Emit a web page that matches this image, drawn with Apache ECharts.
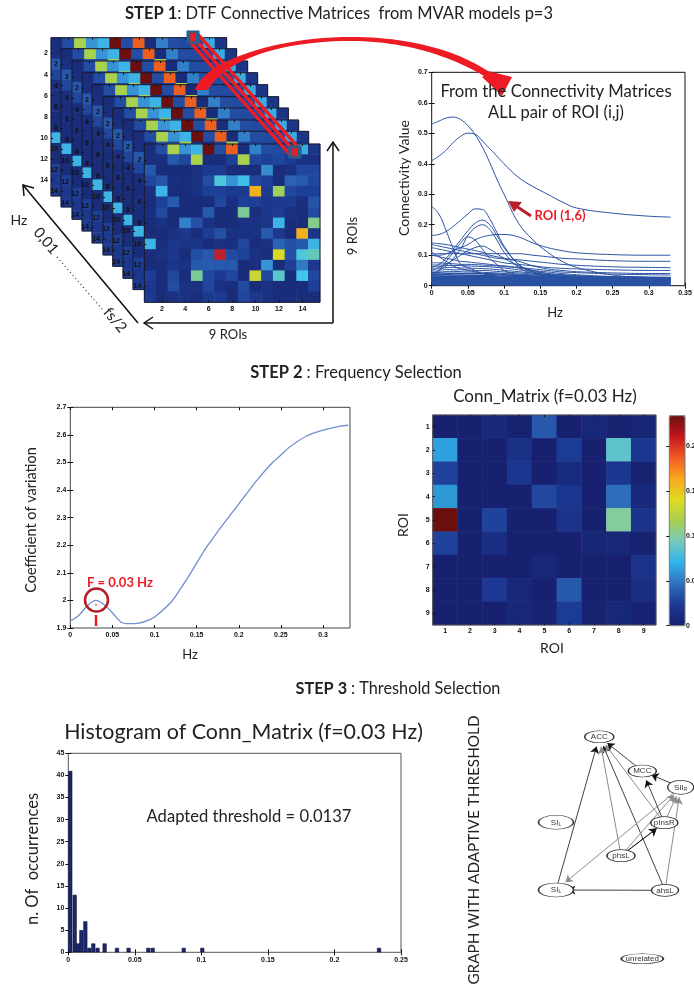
<!DOCTYPE html>
<html><head><meta charset="utf-8">
<style>html,body{margin:0;padding:0;background:#fff}#c{width:694px;height:989px}</style>
<script src="https://cdn.jsdelivr.net/npm/echarts@6/dist/echarts.min.js"></script></head>
<body><div id="c"></div>
<script>
// ---------- data ----------
const matrixTicks = [1,2,3,4,5,6,7,8,9,10,11,12,13,14,15];
const dtfRows = [
 [.03,.14,.6,.28,.35,1,.14,.82,.03,.25,.14,.13,.13,.33,.06],
 [.04,.04,.17,.12,.6,.03,.03,.1,.6,.12,.1,.12,.08,.05,.04],
 [.17,.03,.03,.03,.05,.08,.08,.03,.03,.03,.27,.03,.05,.12,.12],
 [.12,.16,.04,.03,.05,.14,.42,.28,.38,.12,.1,.03,.2,.18,.12],
 [.04,.35,.03,.03,.05,.1,.1,.08,.08,.74,.08,.58,.12,.1,.1],
 [.03,.1,.18,.03,.03,.03,.12,.04,.1,.1,.07,.08,.08,.04,.16],
 [.04,.13,.03,.03,.03,.17,.03,.03,.5,.04,.07,.09,.05,.03,.13],
 [.03,.05,.03,.25,.15,.05,.03,.03,.05,.05,.06,.35,.03,.03,.52],
 [.03,.03,.05,.07,.03,.09,.15,.05,.05,.05,.18,.07,.03,.74,.06],
 [.35,.03,.07,.06,.06,.03,.05,.04,.12,.03,.05,.2,.15,.17,.35],
 [.03,.05,.07,.03,.14,.17,.9,.13,.11,.05,.03,.68,.15,.42,.46],
 [.03,.03,.06,.05,.17,.18,.17,.17,.03,.04,.28,.03,.1,.24,.07],
 [.1,.03,.12,.03,.5,.12,.08,.12,.03,.65,.12,.44,.03,.4,.12],
 [.07,.03,.14,.05,.05,.12,.05,.03,.13,.03,.05,.03,.03,.03,.1],
 [.08,.03,.05,.05,.04,.08,.08,.03,.12,.07,.05,.03,.03,.03,.03]
];
const connHz = [0,.01,.02,.03,.04,.05,.06,.07,.08,.09,.1,.12,.14,.16,.18,.2,.25,.3,.33];
const roi16  = [.53,.54,.55,.553,.545,.525,.495,.455,.405,.35,.3,.205,.15,.11,.08,.06,.035,.027,.025];
const line02 = [.41,.425,.445,.47,.49,.5,.497,.475,.45,.425,.4,.355,.325,.3,.275,.255,.238,.228,.225];
const line03 = [.26,.235,.18,.12,.07,.06,.05,.04,.035,.03,.028,.025,.022,.02,.019,.018,.016,.015,.015];
const line04 = [.165,.168,.178,.195,.215,.235,.252,.25,.22,.175,.13,.07,.045,.035,.03,.026,.02,.017,.016];
const line05 = [.06,.07,.09,.12,.15,.18,.205,.215,.2,.165,.125,.07,.045,.035,.03,.027,.022,.02,.02];
const line06 = [.04,.05,.065,.09,.12,.165,.19,.2,.185,.15,.11,.06,.04,.032,.028,.025,.02,.018,.018];
const line07 = [.1,.1,.105,.115,.125,.135,.15,.16,.165,.168,.168,.16,.14,.125,.115,.108,.102,.1,.1];
const line08 = [.14,.138,.135,.13,.125,.12,.115,.11,.105,.105,.105,.105,.1,.095,.09,.088,.082,.08,.08];
const line09 = [.135,.13,.125,.12,.115,.11,.105,.1,.095,.09,.088,.085,.08,.075,.07,.067,.062,.06,.059];
const line10 = [.125,.12,.115,.11,.105,.1,.095,.09,.085,.08,.075,.07,.065,.06,.057,.055,.052,.05,.05];
const line11 = [.105,.105,.105,.105,.105,.105,.105,.105,.1,.095,.09,.08,.065,.055,.05,.046,.042,.04,.04];
const line12 = [.1,.095,.09,.085,.08,.078,.075,.073,.07,.067,.065,.06,.055,.05,.045,.043,.038,.036,.035];
const line13 = [.05,.06,.07,.085,.1,.115,.125,.13,.12,.105,.09,.065,.05,.04,.035,.03,.025,.02,.02];
const line14 = [.11,.095,.08,.065,.055,.05,.045,.04,.04,.038,.036,.033,.03,.028,.026,.024,.022,.02,.02];
const line15 = [.03,.05,.08,.11,.14,.16,.15,.12,.09,.07,.05,.035,.03,.025,.02,.018,.015,.012,.012];
const line16 = [.075,.075,.073,.072,.07,.07,.069,.068,.066,.065,.063,.058,.05,.045,.04,.036,.03,.028,.027];
const line17 = [.068,.068,.067,.066,.066,.065,.064,.063,.062,.06,.058,.052,.046,.04,.036,.033,.029,.027,.026];
const line18 = [.062,.062,.06,.06,.058,.058,.057,.056,.055,.053,.05,.046,.041,.037,.034,.031,.028,.026,.026];
const line19 = [.055,.055,.054,.052,.052,.052,.05,.05,.049,.047,.045,.042,.038,.035,.032,.03,.027,.025,.025];
const line20 = [.048,.048,.047,.047,.046,.045,.045,.044,.043,.042,.04,.038,.035,.033,.03,.028,.026,.024,.024];
const band01 = [.042,.042,.041,.041,.04,.04,.04,.039,.038,.037,.036,.034,.032,.03,.029,.028,.027,.027,.027];
const band02 = [.036,.036,.036,.035,.035,.034,.034,.033,.033,.032,.032,.03,.029,.028,.027,.026,.025,.025,.025];
const band03 = [.032,.032,.031,.031,.031,.03,.03,.03,.029,.029,.028,.027,.026,.026,.025,.024,.023,.023,.023];
const band04 = [.028,.028,.028,.027,.027,.027,.027,.026,.026,.026,.025,.025,.024,.023,.023,.022,.021,.021,.021];
const band05 = [.025,.025,.025,.024,.024,.024,.024,.024,.023,.023,.023,.022,.022,.021,.021,.02,.019,.019,.019];
const band06 = [.022,.022,.022,.022,.021,.021,.021,.021,.021,.02,.02,.02,.02,.019,.019,.018,.018,.017,.017];
const band07 = [.02,.02,.019,.019,.019,.019,.018,.018,.018,.018,.018,.018,.017,.017,.017,.016,.016,.015,.015];
const band08 = [.017,.017,.017,.016,.016,.016,.016,.016,.016,.015,.015,.015,.015,.015,.014,.014,.014,.014,.013];
const band09 = [.014,.014,.014,.014,.014,.013,.013,.013,.013,.013,.013,.013,.013,.012,.012,.012,.012,.012,.012];
const band10 = [.012,.012,.011,.011,.011,.011,.011,.011,.011,.011,.011,.011,.011,.01,.01,.01,.01,.01,.01];
const band11 = [.009,.009,.009,.009,.009,.009,.009,.009,.009,.009,.009,.009,.008,.008,.008,.008,.008,.008,.008];
const band12 = [.007,.007,.007,.007,.007,.007,.007,.007,.006,.006,.006,.006,.006,.006,.006,.006,.006,.006,.006];
const band13 = [.005,.005,.005,.005,.005,.004,.004,.004,.004,.004,.004,.004,.004,.004,.004,.004,.004,.004,.004];
const band14 = [.003,.003,.003,.003,.003,.003,.003,.003,.003,.003,.003,.002,.002,.002,.002,.002,.002,.002,.002];
const connLines = [roi16,line02,line03,line04,line05,line06,line07,line08,line09,line10,line11,line12,line13,line14,line15,line16,line17,line18,line19,line20];
const bandLines = [band01,band02,band03,band04,band05,band06,band07,band08,band09,band10,band11,band12,band13,band14];

const cvHz = [0,.01,.02,.03,.04,.05,.06,.07,.08,.09,.1,.12,.14,.16,.18,.2,.22,.24,.25,.26,.28,.3,.32,.33];
const cvValues = [1.925,1.945,1.98,2.0,1.985,1.955,1.922,1.916,1.917,1.925,1.94,1.995,2.085,2.185,2.27,2.35,2.43,2.5,2.527,2.555,2.595,2.617,2.632,2.635];
const cvXTicks = [0,.05,.1,.15,.2,.25,.3];

const roiTicks = [1,2,3,4,5,6,7,8,9];
const connMatrix = [
 [.001,.001,.008,.002,.0366,.001,.006,.002,.005],
 [.0634,.001,.001,.014,.001,.024,.001,.0867,.02],
 [.027,.001,.001,.02,.001,.01,.001,.02,.002],
 [.0601,.001,.001,.001,.029,.02,.001,.0453,.008],
 [.234,.001,.027,.001,.001,.017,.001,.1007,.018],
 [.027,.001,.013,.001,.001,.001,.005,.006,.002],
 [.001,.001,.001,.001,.006,.001,.001,.001,.016],
 [.001,.001,.022,.006,.001,.037,.001,.001,.012],
 [.001,.001,.001,.007,.003,.024,.002,.007,.003]
];
const colorbarTicks = [0,.05,.1,.15,.2];

const histCenters = [.0015,.0048,.0073,.0098,.0128,.0158,.0188,.022,.0273,.0366,.0453,.0601,.0634,.0867,.1007,.2335];
const histCounts  = [41,13,2,5,7,1,2,1,2,1,1,1,1,1,1,1];

const nodeNames = ['ACC','MCC','SIIR','pInsR','SIL','phsL','SI','ahsL','unrelated'];
const nodeX = [149.3,192.3,230.7,214.3,106,171,106,215,192.3];
const nodeY = [26.7,61,77.3,112.7,112.3,145.7,180,180.3,248.7];
const edgeFrom = ['ahsL','ahsL','ahsL','SI','SIIR','phsL','phsL','phsL','phsL','pInsR','pInsR','pInsR','MCC','SIIR'];
const edgeTo   = ['SI','ACC','SIIR','ACC','SI','ACC','pInsR','pInsR','SIIR','ACC','MCC','SIIR','ACC','MCC'];
const edgeGray = [0,0,1,0,1,1,0,0,1,1,0,1,0,0];

// ---------- style helpers ----------
const SANS = 'Lato, "Open Sans", sans-serif';
const TICK = {fontFamily:'"Liberation Sans"',fontWeight:'bold',fontSize:7,color:'#111'};
const grids=[],xAxes=[],yAxes=[],series=[];
function addGrid(r,extra){grids.push(Object.assign({left:r[0],top:r[1],width:r[2],height:r[3],containLabel:false,outerBoundsMode:'none',show:true,borderColor:'#111',borderWidth:1,backgroundColor:'transparent'},extra||{}));return grids.length-1;}
function addAxis(list,o){list.push(o);return list.length-1;}
function boxAxes(g,xo,yo){
  const xt={show:true,inside:true,length:3,lineStyle:{color:'#111'}};
  const xi=addAxis(xAxes,Object.assign({gridIndex:g,type:'value',position:'bottom',splitLine:{show:false},axisLine:{show:false},axisTick:xt,axisLabel:Object.assign({margin:4},TICK)},xo));
  const yi=addAxis(yAxes,Object.assign({gridIndex:g,type:'value',position:'left',splitLine:{show:false},axisLine:{show:false},axisTick:xt,axisLabel:Object.assign({margin:4},TICK)},yo));
  addAxis(xAxes,Object.assign({gridIndex:g,type:'value',position:'top',splitLine:{show:false},axisLine:{show:false},axisTick:xt},xo,{axisLabel:{show:false}}));
  addAxis(yAxes,Object.assign({gridIndex:g,type:'value',position:'right',splitLine:{show:false},axisLine:{show:false},axisTick:xt},yo,{axisLabel:{show:false}}));
  return [xi,yi];
}
const evenIdx = i => (i+1)%2===0;
function matrixAxes(g,cats,labelFn,tickFn,z,xLabels){
  const common={gridIndex:g,type:'category',data:cats,splitArea:{show:false},splitLine:{show:false},axisLine:{show:false},z:z};
  const tick={show:true,inside:true,length:2,alignWithLabel:true,interval:tickFn,lineStyle:{color:'#111'}};
  const lab=Object.assign({margin:3,interval:labelFn},TICK);
  const xi=addAxis(xAxes,Object.assign({},common,{position:'bottom',axisTick:tick,axisLabel:xLabels?lab:{show:false}}));
  addAxis(xAxes,Object.assign({},common,{position:'top',axisTick:tick,axisLabel:{show:false}}));
  const yi=addAxis(yAxes,Object.assign({},common,{position:'left',inverse:true,axisTick:tick,axisLabel:lab}));
  return [xi,yi];
}
function cells(rows){const d=[];rows.forEach((r,y)=>r.forEach((v,x)=>d.push([x,y,v])));return d;}

// ---------- stack of DTF matrices ----------
const frameLefts=[51,61,72,82,92,103,112.7,123,133,144.3];
const frameTops=[37.7,48.7,61,72.7,84.7,96.7,108,120,131.3,144];
const frameSeries=[];
frameLefts.forEach((l,i)=>{
  const z=10+i*3;
  const g=addGrid([l,frameTops[i],175.7,158.3],{z:z+1,borderColor:'#1a1a2a'});
  const a=matrixAxes(g,matrixTicks,evenIdx,evenIdx,z+2,i===9);
  frameSeries.push(series.length);
  series.push({type:'heatmap',xAxisIndex:a[0],yAxisIndex:a[1],data:cells(dtfRows),z:z,progressive:0,silent:true,itemStyle:{borderWidth:0},emphasis:{disabled:true}});
});

// ---------- all pair connectivity curves ----------
{
  const g=addGrid([431.7,72.3,253.3,213.4]);
  const a=boxAxes(g,{min:0,max:.35,interval:.05},{min:0,max:.7,interval:.1});
  const add=(v,w)=>series.push({type:'line',xAxisIndex:a[0],yAxisIndex:a[1],data:v.map((y,i)=>[connHz[i],y]),smooth:.4,symbol:'none',silent:true,lineStyle:{color:'#2a52a3',width:w}});
  connLines.forEach(v=>add(v,1));
  bandLines.forEach(v=>add(v,1.6));
}
// ---------- coefficient of variation ----------
{
  const g=addGrid([70.3,407.3,279.7,220.7],{borderColor:'#444'});
  const a=boxAxes(g,{min:0,max:.332,axisLabel:Object.assign({margin:4,customValues:cvXTicks},TICK),axisTick:{show:true,inside:true,length:3,customValues:cvXTicks,lineStyle:{color:'#111'}}},{min:1.9,max:2.7,interval:.1});
  series.push({type:'line',xAxisIndex:a[0],yAxisIndex:a[1],data:cvHz.map((x,i)=>[x,cvValues[i]]),smooth:.25,symbol:'none',silent:true,lineStyle:{color:'#6f8fce',width:1.3}});
}
// ---------- Conn_Matrix 9x9 ----------
let connSeries;
{
  const g=addGrid([432.7,415,223.3,210],{z:6,borderColor:'#555'});
  const all=()=>true;
  const a=matrixAxes(g,roiTicks,all,all,7,true);
  connSeries=series.length;
  series.push({type:'heatmap',xAxisIndex:a[0],yAxisIndex:a[1],data:cells(connMatrix),z:5,progressive:0,silent:true,itemStyle:{borderWidth:0},emphasis:{disabled:true}});
  const cb=addGrid([669.3,415.7,15.7,210],{borderColor:'#777',z:6});
  addAxis(xAxes,{gridIndex:cb,type:'value',min:0,max:1,show:false});
  addAxis(yAxes,{gridIndex:cb,type:'value',min:0,max:.234,position:'right',splitLine:{show:false},axisLine:{show:false},z:6,
    axisTick:{show:true,inside:true,length:3,customValues:colorbarTicks,lineStyle:{color:'#111'}},
    axisLabel:Object.assign({margin:1,customValues:colorbarTicks},TICK)});
}
// ---------- histogram ----------
{
  const g=addGrid([68.3,753.3,332.7,199],{borderColor:'#555'});
  const a=boxAxes(g,{min:0,max:.25,interval:.05},{min:0,max:45,interval:5});
  series.push({type:'bar',xAxisIndex:a[0],yAxisIndex:a[1],barWidth:4,data:histCenters.map((x,i)=>[x,histCounts[i]]),silent:true,itemStyle:{color:'#1b2a70',borderColor:'#0c0c30',borderWidth:.6}});
}
// ---------- threshold graph ----------
{
  const g=addGrid([450,710,244,279],{show:false});
  const xi=addAxis(xAxes,{gridIndex:g,type:'value',min:0,max:244,show:false});
  const yi=addAxis(yAxes,{gridIndex:g,type:'value',min:0,max:279,inverse:true,show:false});
  const sizes={ACC:[29,12],MCC:[28,12],SIIR:[26,14],pInsR:[27,12],SIL:[35,14],phsL:[28,12],SI:[35,14],ahsL:[27,12],unrelated:[42,10]};
  const labels={SIIR:'{n|SII}{s|R}',SIL:'{n|SI}{s|L}',SI:'{n|SI}{s|L}'};
  series.push({type:'graph',coordinateSystem:'cartesian2d',xAxisIndex:xi,yAxisIndex:yi,silent:true,
    edgeSymbol:['none','arrow'],edgeSymbolSize:[0,7],z:5,
    itemStyle:{color:'#fff',borderColor:'#333',borderWidth:1},
    label:{show:true,position:'inside',fontFamily:'"Liberation Sans"',fontSize:8,color:'#333',
      rich:{n:{fontFamily:'"Liberation Sans"',fontSize:8,color:'#333'},s:{fontFamily:'"Liberation Sans"',fontSize:5,color:'#333',verticalAlign:'bottom',padding:[4,0,0,0]}}},
    data:nodeNames.map((n,i)=>({name:n,value:[nodeX[i],nodeY[i]],symbol:'circle',symbolSize:sizes[n],label:{formatter:labels[n]||n}})),
    links:edgeFrom.map((f,i)=>({source:f,target:edgeTo[i],lineStyle:{color:edgeGray[i]?'#8c8c8c':'#111',width:edgeGray[i]?1:.8,opacity:1}}))
  });
}

// ---------- annotations ----------
const RED='#ed1c24', DRED='#b5202a';
function txt(text,x,y,size,o){o=o||{};return {type:'text',z:o.z||200,x:x,y:y,rotation:(o.rot||0)*Math.PI/180,silent:true,
  style:{text:text,fill:o.color||'#222',font:(o.bold?'bold ':'')+size+'px '+SANS,align:o.align||'center',verticalAlign:'middle',rich:o.rich}};}
function ln(x1,y1,x2,y2,w,c,o){o=o||{};return {type:'line',z:o.z||150,silent:true,shape:{x1,y1,x2,y2},style:{stroke:c,lineWidth:w,lineDash:o.dash}};}
function head(pts,c,w){return {type:'polyline',z:150,silent:true,shape:{points:pts},style:{stroke:c,lineWidth:w,fill:'none'}};}
function rich(size){const f={fontFamily:SANS,fontSize:size,fill:'#222',color:'#222'};return {b:Object.assign({},f,{fontWeight:'bold'}),n:f};}
// sweep of the big arrow, sampled from cubic segments
function bez(p0,c1,c2,p1){const out=[];for(let k=0;k<=24;k++){const t=k/24,u=1-t;out.push([u*u*u*p0[0]+3*u*u*t*c1[0]+3*u*t*t*c2[0]+t*t*t*p1[0],u*u*u*p0[1]+3*u*u*t*c1[1]+3*u*t*t*c2[1]+t*t*t*p1[1]]);}return out;}
const sweep=[].concat(
  bez([195,90],[204,60],[280,37],[350,37]),
  bez([350,37],[410,37],[455,50],[488,71]),
  [[512,77],[502,96],[482,77]],
  bez([484,76],[450,56],[405,41],[350,41]),
  bez([350,41],[285,41],[226,58],[208,90])
);
const gfx=[
  txt('{b|STEP 1}{n|: DTF Connective Matrices  from MVAR models p=3}',339,14,16.5,{rich:rich(16.5)}),
  txt('{b|STEP 2 }{n|: Frequency Selection}',356,373,16.5,{rich:rich(16.5)}),
  txt('{b|STEP 3 }{n|: Threshold Selection}',398,689,16.3,{rich:rich(16.3)}),
  // red band along the stack
  ln(197.1,33.4,299.1,148.4,3.4,RED,{z:120}),
  ln(193,37,295,152,3.4,RED,{z:120}),
  ln(188.9,40.6,290.9,155.6,3.4,RED,{z:120}),
  {type:'rect',z:121,silent:true,shape:{x:186.5,y:30.5,width:13,height:13},style:{fill:'#25608f'}},
  {type:'rect',z:122,silent:true,shape:{x:190.3,y:32.8,width:5.5,height:8.5},style:{fill:RED}},
  {type:'rect',z:121,silent:true,shape:{x:288.5,y:145.5,width:13,height:13},style:{fill:'#25608f'}},
  {type:'rect',z:122,silent:true,shape:{x:292.3,y:147.8,width:5.5,height:8.5},style:{fill:RED}},
  // big curved arrow
  {type:'polygon',z:130,silent:true,shape:{points:sweep},style:{fill:RED}},
  // stack axes
  ln(138,323,23,185,1.5,'#111'), head([[24,196],[23,185],[34,188]],'#111',1.5),
  ln(333,323,144,323,1.5,'#111'), head([[153,317],[144,323],[153,329]],'#111',1.5),
  ln(333,323,333,142,1.5,'#111'), head([[327,151],[333,142],[339,151]],'#111',1.5),
  ln(57,257,103,310,1.2,'#333',{dash:[1,3]}),
  txt('Hz',19,220,14),
  txt('0,01',46,241,15,{rot:-50}),
  txt('fs/2',115,320,15,{rot:-50}),
  txt('9 ROIs',228,335,13),
  txt('9 ROIs',353,236,13,{rot:90}),
  // connectivity plot
  txt('Connectivity Value',404,178,14,{rot:90}),
  txt('Hz',555,313,13),
  txt('From the Connectivity Matrices',556,92,16.7),
  txt('ALL pair of ROI (i,j)',556,113,16.5),
  txt('ROI (1,6)',560,216,13,{bold:true,color:RED}),
  ln(531,216,513,204,3,DRED), {type:'polygon',z:150,silent:true,shape:{points:[[508,201],[522,202],[514,212]]},style:{fill:DRED}},
  // CV plot
  txt('Coefficient of variation',31,520,14.5,{rot:90}),
  txt('Hz',190,655,13),
  txt('F = 0.03 Hz',120,583,13,{bold:true,color:RED}),
  {type:'circle',z:150,silent:true,shape:{cx:96.5,cy:600,r:11.5},style:{fill:'none',stroke:'#b02028',lineWidth:2.5}},
  ln(96,604,96,605.5,1.5,RED), ln(96,615,96,626,2.5,RED),
  // conn matrix
  txt('Conn_Matrix (f=0.03 Hz)',545,397,17),
  txt('ROI',403,525,14,{rot:90}),
  txt('ROI',552,648,14),
  // histogram
  txt('Histogram of Conn_Matrix (f=0.03 Hz)',243.5,732,21.4),
  txt('Adapted threshold = 0.0137',249,817,16.6),
  txt('n. Of  occurrences',33,859,16.5,{rot:90}),
  // graph
  txt('GRAPH WITH ADAPTIVE THRESHOLD',474,850,15.3,{rot:90})
];

const option={
  animation:false,
  backgroundColor:'#fff',
  grid:grids,xAxis:xAxes,yAxis:yAxes,series:series,
  visualMap:[
    {type:'continuous',show:false,seriesIndex:frameSeries,min:0,max:1,dimension:2,
     inRange:{color:['#18256e','#1d3f98','#2a62b4','#3a9fdc','#42c6ee','#7cc998','#a8d24e','#e6dc1c','#f6701f','#c0202a','#6b0f0f']}},
    {type:'continuous',show:true,seriesIndex:connSeries,min:0,max:.234,dimension:2,left:669.3,top:415.7,itemWidth:15.7,itemHeight:210,text:['',''],showLabel:false,calculable:false,padding:0,z:3,
     inRange:{color:['#17206e','#1c3a94','#2f70bc','#2eb4ea','#74c9c0','#a8cf50','#e0dc20','#f8a81e','#f15a24','#c4161c','#6b0f0f']}}
  ],
  graphic:{elements:gfx}
};
const chart=echarts.init(document.getElementById('c'),null,{renderer:'canvas',width:694,height:989});
chart.setOption(option);
</script></body></html>
